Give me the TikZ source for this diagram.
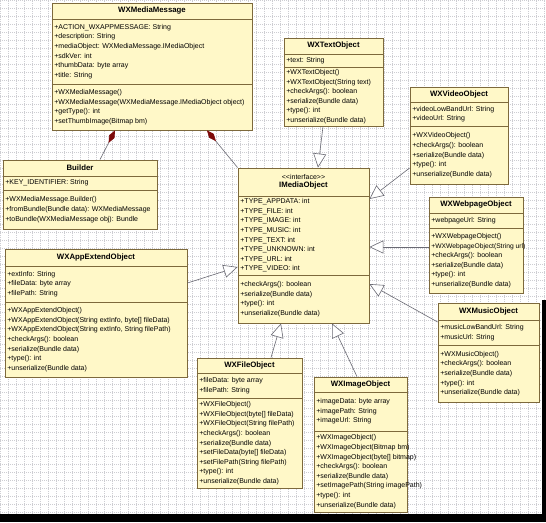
\documentclass[tikz,border=0pt]{standalone}
\usepackage{fontspec}
\setmainfont{Liberation Sans}
\usetikzlibrary{arrows.meta,fit,calc}
\definecolor{umlfill}{RGB}{255,248,200}
\definecolor{umlborder}{RGB}{125,105,60}
\definecolor{conn}{RGB}{105,105,115}
\definecolor{diam}{RGB}{125,10,10}
\definecolor{gridc}{RGB}{205,205,210}
\tikzset{
  clsbox/.style={draw=umlborder, fill=umlfill, line width=0.8pt, inner sep=0pt, rectangle},
  clsdiv/.style={draw=umlborder, line width=0.8pt},
  clstitle/.style={font=\fontsize{7.8}{9}\selectfont\bfseries, inner sep=0pt, align=center},
  clsbody/.style={font=\fontsize{7.0}{9.6}\selectfont, inner xsep=2.6pt, inner ysep=0pt, align=left},
  gen/.style={draw=conn, line width=0.6pt, -{Triangle[length=14pt, width=13pt, fill=white]}},
  comp/.style={draw=conn, line width=0.6pt, {Diamond[length=14pt, width=6pt, fill=diam, color=diam]}-},
  gridline/.style={draw=gridc, line width=0.5pt, dash pattern=on 0.7pt off 1.3pt},
}
% #1 id, #2 top-left, #3 bottom-right, #4 y title bottom, #5 y divider, #6 title, #7 attributes, #8 methods
\newcommand\umlclass[8]{%
  \node[clsbox, fit={(#2) (#3)}] (#1) {};
  \draw[clsdiv] (#1.west |- 0,#4) -- (#1.east |- 0,#4);
  \draw[clsdiv] (#1.west |- 0,#5) -- (#1.east |- 0,#5);
  \node[clstitle] (#1-t) at ($(#1.north)!0.5!(#1.north |- 0,#4)$) {#6};
  \node[clsbody, anchor=west] (#1-a) at (#1.west |- 0,{(#4+#5)/2}) {#7};
  \node[clsbody, anchor=west] (#1-m) at ($(#1.west |- 0,#5)!0.5!(#1.south west)$) {#8};
}
\begin{document}
\begin{tikzpicture}[x=1pt, y=-1pt]
\useasboundingbox (0,0) rectangle (546,522);
\fill[white] (0,0) rectangle (546,522);
\draw[gridline, step=8pt] (0,0) grid (546,522);
\fill[black] (0,514) rectangle (546,522);
\fill[black] (542,300) rectangle (546,522);

\umlclass{mm}{52,3}{252,130}{19}{84}{WXMediaMessage}
 {+ACTION\_WXAPPMESSAGE: String\\+description: String\\+mediaObject: WXMediaMessage.IMediaObject\\+sdkVer: int\\+thumbData: byte array\\+title: String}
 {+WXMediaMessage()\\+WXMediaMessage(WXMediaMessage.IMediaObject object)\\+getType(): int\\+setThumbImage(Bitmap bm)}

\umlclass{tx}{284,38}{383,126}{54}{67}{WXTextObject}
 {+text: String}
 {+WXTextObject()\\+WXTextObject(String text)\\+checkArgs(): boolean\\+serialize(Bundle data)\\+type(): int\\+unserialize(Bundle data)}

\umlclass{vid}{410,87}{508,184}{102}{126}{WXVideoObject}
 {+videoLowBandUrl: String\\+videoUrl: String}
 {+WXVideoObject()\\+checkArgs(): boolean\\+serialize(Bundle data)\\+type(): int\\+unserialize(Bundle data)}

\umlclass{bld}{3,160}{157,229}{176}{190}{Builder}
 {+KEY\_IDENTIFIER: String}
 {+WXMediaMessage.Builder()\\+fromBundle(Bundle data): WXMediaMessage\\+toBundle(WXMediaMessage obj): Bundle}

\umlclass{imo}{238,168}{369,323}{196}{275}{{\mdseries\fontsize{7.0}{9}\selectfont {<}{<}interface{>}{>}}\\[-0.5pt]IMediaObject}
 {+TYPE\_APPDATA: int\\+TYPE\_FILE: int\\+TYPE\_IMAGE: int\\+TYPE\_MUSIC: int\\+TYPE\_TEXT: int\\+TYPE\_UNKNOWN: int\\+TYPE\_URL: int\\+TYPE\_VIDEO: int}
 {+checkArgs(): boolean\\+serialize(Bundle data)\\+type(): int\\+unserialize(Bundle data)}

\umlclass{web}{429,197}{523,293}{213}{228}{WXWebpageObject}
 {+webpageUrl: String}
 {+WXWebpageObject()\\{\fontsize{6.7}{9.6}\selectfont +WXWebpageObject(String url)}\\+checkArgs(): boolean\\+serialize(Bundle data)\\+type(): int\\+unserialize(Bundle data)}

\umlclass{mus}{438,303}{539,402}{320}{345}{WXMusicObject}
 {+musicLowBandUrl: String\\+musicUrl: String}
 {+WXMusicObject()\\+checkArgs(): boolean\\+serialize(Bundle data)\\+type(): int\\+unserialize(Bundle data)}

\umlclass{app}{5,249}{187,377}{266}{302}{WXAppExtendObject}
 {+extInfo: String\\+fileData: byte array\\+filePath: String}
 {+WXAppExtendObject()\\+WXAppExtendObject(String extInfo, byte[] fileData)\\+WXAppExtendObject(String extInfo, String filePath)\\+checkArgs(): boolean\\+serialize(Bundle data)\\+type(): int\\+unserialize(Bundle data)}

\umlclass{file}{197,358}{302,488}{373}{398}{WXFileObject}
 {+fileData: byte array\\+filePath: String}
 {+WXFileObject()\\+WXFileObject(byte[] fileData)\\+WXFileObject(String filePath)\\+checkArgs(): boolean\\+serialize(Bundle data)\\+setFileData(byte[] fileData)\\+setFilePath(String filePath)\\+type(): int\\+unserialize(Bundle data)}

\umlclass{img}{314,377}{407,512}{392}{431}{WXImageObject}
 {+imageData: byte array\\+imagePath: String\\+imageUrl: String}
 {+WXImageObject()\\+WXImageObject(Bitmap bm)\\+WXImageObject(byte[] bitmap)\\+checkArgs(): boolean\\+serialize(Bundle data)\\+setImagePath(String imagePath)\\+type(): int\\+unserialize(Bundle data)}

% compositions
\draw[comp] (mm.south -| 115,0) -- (bld.north -| 100,0);
\draw[comp] (mm.south -| 207,0) -- (imo.north west);
% generalizations
\draw[gen] (tx.south -| 323,0) -- (imo.north -| 318,0);
\draw[gen] (vid.west |- 0,168) -- (imo.east |- 0,199);
\draw[gen] (web.west |- 0,247) -- (imo.east |- 0,247);
\draw[gen] (mus.west |- 0,322) -- (imo.east |- 0,284);
\draw[gen] (app.east |- 0,283) -- (imo.west |- 0,267);
\draw[gen] (file.north -| 271,0) -- (imo.south -| 281,0);
\draw[gen] (img.north -| 357,0) -- (imo.south -| 332,0);
\end{tikzpicture}
\end{document}
